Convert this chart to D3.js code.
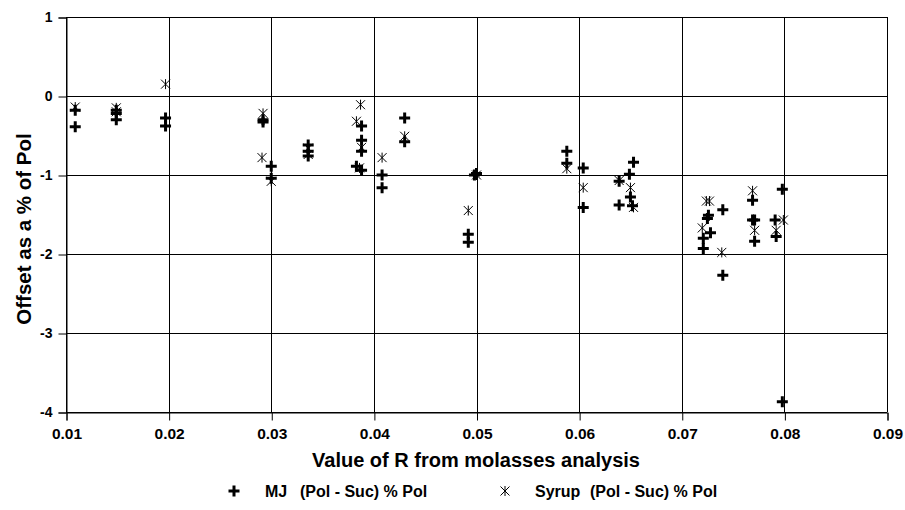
<!DOCTYPE html>
<html>
<head>
<meta charset="utf-8">
<script src="https://cdn.jsdelivr.net/npm/d3@7"></script>
<style>
  body { margin: 0; background: #fff; }
  text { font-family: "Liberation Sans", Arial, sans-serif; font-weight: bold; fill: #000; }
</style>
</head>
<body>
<svg id="chart"></svg>
<script>
// MJ (Pol - Suc) % Pol
let mjR = [0.0109, 0.0109, 0.0149, 0.0149, 0.0149, 0.0197, 0.0197, 0.0292, 0.0292, 0.0300, 0.0300,
    0.0336, 0.0336, 0.0336, 0.0388, 0.0388, 0.0388, 0.0383, 0.0388, 0.0408, 0.0408, 0.0430, 0.0430,
    0.0500, 0.0498, 0.0492, 0.0492, 0.0588, 0.0588, 0.0604, 0.0604, 0.0639, 0.0639,
    0.0653, 0.0649, 0.0650, 0.0652, 0.0726, 0.0725, 0.0740, 0.0728, 0.0721, 0.0721, 0.0740,
    0.0769, 0.0769, 0.0771, 0.0771, 0.0798, 0.0791, 0.0792, 0.0798];
let mjOffset = [-0.18, -0.39, -0.18, -0.22, -0.30, -0.28, -0.38, -0.30, -0.33, -0.89, -1.04,
    -0.62, -0.70, -0.76, -0.38, -0.56, -0.70, -0.89, -0.94, -1.00, -1.16, -0.28, -0.58,
    -0.98, -1.00, -1.75, -1.85, -0.70, -0.85, -0.91, -1.41, -1.08, -1.38,
    -0.84, -0.99, -1.28, -1.39, -1.51, -1.55, -1.44, -1.73, -1.80, -1.93, -2.27,
    -1.32, -1.57, -1.57, -1.84, -1.18, -1.57, -1.78, -3.87];

// Syrup (Pol - Suc) % Pol
let syrupR = [0.0109, 0.0149, 0.0149, 0.0197, 0.0292, 0.0291, 0.0300, 0.0336, 0.0336, 0.0387, 0.0383,
    0.0388, 0.0386, 0.0408, 0.0430, 0.0500, 0.0492, 0.0588, 0.0604, 0.0639, 0.0650, 0.0653,
    0.0724, 0.0727, 0.0720, 0.0739, 0.0769, 0.0771, 0.0799, 0.0792];
let syrupOffset = [-0.14, -0.15, -0.20, 0.15, -0.22, -0.78, -1.08, -0.66, -0.74, -0.11, -0.32,
    -0.65, -0.91, -0.78, -0.51, -1.00, -1.45, -0.92, -1.16, -1.07, -1.16, -1.41,
    -1.33, -1.33, -1.67, -1.98, -1.20, -1.70, -1.57, -1.70];

let xTicks = [0.01, 0.02, 0.03, 0.04, 0.05, 0.06, 0.07, 0.08, 0.09];
let yTicks = [1, 0, -1, -2, -3, -4];

function createChart() {
    let w = 905, h = 510;
    let svg = d3.select('#chart').attr('width', w).attr('height', h);

    let x = d3.scaleLinear().domain([0.01, 0.09]).range([66, 887]);
    let y = d3.scaleLinear().domain([-4, 1]).range([412, 17]);

    // gridlines
    svg.append('g').selectAll('line')
        .data(yTicks).enter().append('line')
        .attr('x1', x(0.01)).attr('x2', x(0.09))
        .attr('y1', d => Math.round(y(d)) + 0.5).attr('y2', d => Math.round(y(d)) + 0.5)
        .attr('stroke', '#000').attr('stroke-width', 1);
    svg.append('g').selectAll('line')
        .data(xTicks).enter().append('line')
        .attr('x1', d => Math.round(x(d)) + 0.5).attr('x2', d => Math.round(x(d)) + 0.5)
        .attr('y1', y(1)).attr('y2', y(-4))
        .attr('stroke', '#000').attr('stroke-width', 1);

    // axes
    let yAxis = d3.axisLeft(y).tickValues(yTicks).tickFormat(d => String(d)).tickSizeOuter(0).tickSize(8).tickPadding(6);
    let gy = svg.append('g').attr('transform', 'translate(' + (Math.round(x(0.01)) + 0.5) + ',0.5)').call(yAxis);
    gy.selectAll('text').style('font-size', '14px');

    let xAxis = d3.axisBottom(x).tickValues(xTicks).tickFormat(d3.format('.2f')).tickSizeOuter(0).tickSize(8).tickPadding(7);
    let gx = svg.append('g').attr('transform', 'translate(0.5,' + (Math.round(y(-4)) + 0.5) + ')').call(xAxis);
    gx.selectAll('text').style('font-size', '15.5px');

    svg.selectAll('.domain').attr('stroke', '#000');
    svg.selectAll('.tick line').attr('stroke', '#000');
    svg.selectAll('.tick text').attr('fill', '#000').style('font-family', '"Liberation Sans", Arial, sans-serif');

    // axis titles
    svg.append('text')
        .attr('x', 476).attr('y', 467)
        .attr('text-anchor', 'middle')
        .style('font-size', '20px')
        .text('Value of R from molasses analysis');
    svg.append('text')
        .attr('transform', 'translate(31,229) rotate(-90)')
        .attr('text-anchor', 'middle')
        .style('font-size', '20.5px')
        .text('Offset as a % of Pol');

    let plus = 'M-5.5,0H5.5M0,-5.5V5.5';
    let star = 'M-4.5,-4.5L4.5,4.5M-4.5,4.5L4.5,-4.5M0,-5V5';

    let mj = mjR.map((r, i) => [r, mjOffset[i]]);
    let syrup = syrupR.map((r, i) => [r, syrupOffset[i]]);

    svg.append('g').selectAll('path')
        .data(syrup).enter().append('path')
        .attr('d', star)
        .attr('transform', d => 'translate(' + x(d[0]) + ',' + y(d[1]) + ')')
        .attr('fill', 'none').attr('stroke', '#000').attr('stroke-width', 1);

    svg.append('g').selectAll('path')
        .data(mj).enter().append('path')
        .attr('d', plus)
        .attr('transform', d => 'translate(' + x(d[0]) + ',' + y(d[1]) + ')')
        .attr('fill', 'none').attr('stroke', '#000').attr('stroke-width', 3);

    // legend
    let lg = svg.append('g');
    lg.append('path').attr('d', plus).attr('transform', 'translate(234,491)')
        .attr('stroke', '#000').attr('stroke-width', 3);
    lg.append('text').attr('x', 265).attr('y', 497).style('font-size', '16px').text('MJ');
    lg.append('text').attr('x', 300).attr('y', 497).style('font-size', '16px').text('(Pol - Suc) % Pol');
    lg.append('path').attr('d', star).attr('transform', 'translate(505,491)')
        .attr('fill', 'none').attr('stroke', '#000').attr('stroke-width', 1);
    lg.append('text').attr('x', 535).attr('y', 497).style('font-size', '16px').text('Syrup');
    lg.append('text').attr('x', 590).attr('y', 497).style('font-size', '16px').text('(Pol - Suc) % Pol');
}

window.onload = function() {
    createChart();
}
</script>
</body>
</html>
